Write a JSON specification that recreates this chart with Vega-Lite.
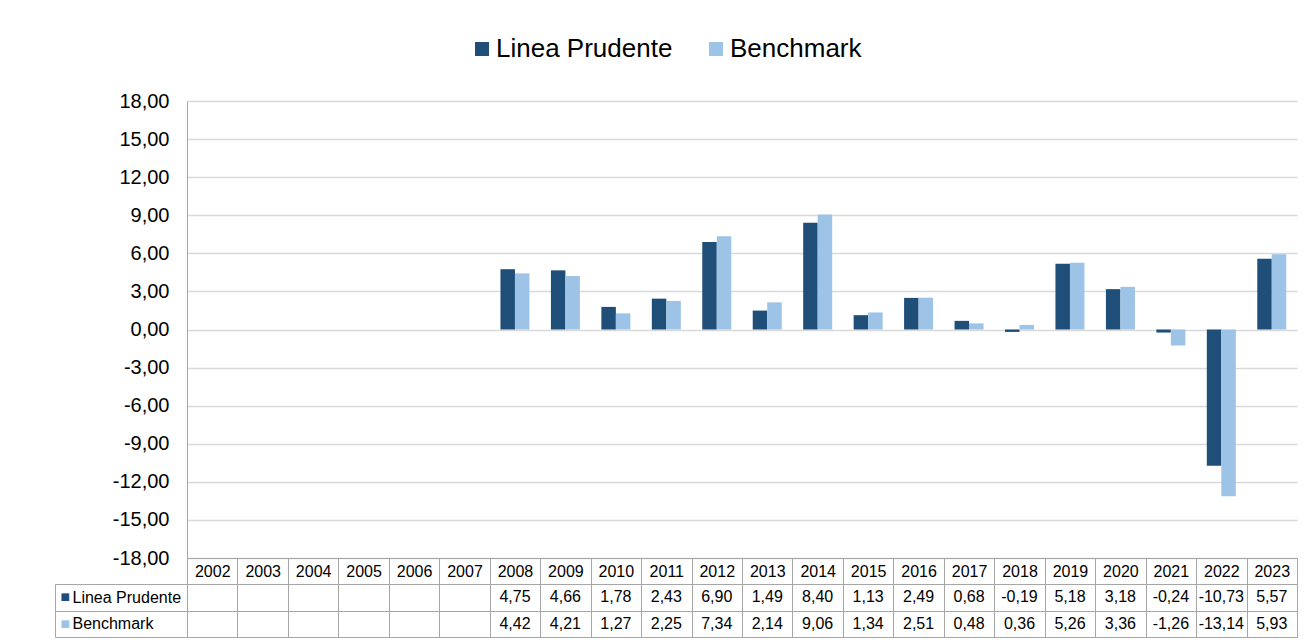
{
  "$schema": "https://vega.github.io/schema/vega-lite/v6.json",
  "padding": {"left": 54, "top": 36, "right": 15, "bottom": 0},
  "background": "#ffffff",
  "spacing": 26,
  "bounds": "flush",
  "config": {
    "locale": {"number": {"decimal": ",", "thousands": ".", "grouping": [3], "currency": ["", " €"], "minus": "-"}},
    "font": "Liberation Sans",
    "view": {"stroke": null},
    "axis": {"labelFont": "Liberation Sans", "labelColor": "#000000"}
  },
  "datasets": {
    "rend": [
      {"anno": "2002", "serie": "Linea Prudente", "valore": null},
      {"anno": "2003", "serie": "Linea Prudente", "valore": null},
      {"anno": "2004", "serie": "Linea Prudente", "valore": null},
      {"anno": "2005", "serie": "Linea Prudente", "valore": null},
      {"anno": "2006", "serie": "Linea Prudente", "valore": null},
      {"anno": "2007", "serie": "Linea Prudente", "valore": null},
      {"anno": "2008", "serie": "Linea Prudente", "valore": 4.75},
      {"anno": "2009", "serie": "Linea Prudente", "valore": 4.66},
      {"anno": "2010", "serie": "Linea Prudente", "valore": 1.78},
      {"anno": "2011", "serie": "Linea Prudente", "valore": 2.43},
      {"anno": "2012", "serie": "Linea Prudente", "valore": 6.90},
      {"anno": "2013", "serie": "Linea Prudente", "valore": 1.49},
      {"anno": "2014", "serie": "Linea Prudente", "valore": 8.40},
      {"anno": "2015", "serie": "Linea Prudente", "valore": 1.13},
      {"anno": "2016", "serie": "Linea Prudente", "valore": 2.49},
      {"anno": "2017", "serie": "Linea Prudente", "valore": 0.68},
      {"anno": "2018", "serie": "Linea Prudente", "valore": -0.19},
      {"anno": "2019", "serie": "Linea Prudente", "valore": 5.18},
      {"anno": "2020", "serie": "Linea Prudente", "valore": 3.18},
      {"anno": "2021", "serie": "Linea Prudente", "valore": -0.24},
      {"anno": "2022", "serie": "Linea Prudente", "valore": -10.73},
      {"anno": "2023", "serie": "Linea Prudente", "valore": 5.57},
      {"anno": "2002", "serie": "Benchmark", "valore": null},
      {"anno": "2003", "serie": "Benchmark", "valore": null},
      {"anno": "2004", "serie": "Benchmark", "valore": null},
      {"anno": "2005", "serie": "Benchmark", "valore": null},
      {"anno": "2006", "serie": "Benchmark", "valore": null},
      {"anno": "2007", "serie": "Benchmark", "valore": null},
      {"anno": "2008", "serie": "Benchmark", "valore": 4.42},
      {"anno": "2009", "serie": "Benchmark", "valore": 4.21},
      {"anno": "2010", "serie": "Benchmark", "valore": 1.27},
      {"anno": "2011", "serie": "Benchmark", "valore": 2.25},
      {"anno": "2012", "serie": "Benchmark", "valore": 7.34},
      {"anno": "2013", "serie": "Benchmark", "valore": 2.14},
      {"anno": "2014", "serie": "Benchmark", "valore": 9.06},
      {"anno": "2015", "serie": "Benchmark", "valore": 1.34},
      {"anno": "2016", "serie": "Benchmark", "valore": 2.51},
      {"anno": "2017", "serie": "Benchmark", "valore": 0.48},
      {"anno": "2018", "serie": "Benchmark", "valore": 0.36},
      {"anno": "2019", "serie": "Benchmark", "valore": 5.26},
      {"anno": "2020", "serie": "Benchmark", "valore": 3.36},
      {"anno": "2021", "serie": "Benchmark", "valore": -1.26},
      {"anno": "2022", "serie": "Benchmark", "valore": -13.14},
      {"anno": "2023", "serie": "Benchmark", "valore": 5.93}
    ]
  },
  "vconcat": [
    {
      "width": 1110,
      "height": 457,
      "data": {"name": "rend"},
      "transform": [{"filter": "datum.valore != null"}],
      "mark": {"type": "bar"},
      "encoding": {
        "x": {
          "field": "anno", "type": "ordinal",
          "scale": {"domain": ["2002","2003","2004","2005","2006","2007","2008","2009","2010","2011","2012","2013","2014","2015","2016","2017","2018","2019","2020","2021","2022","2023"], "paddingInner": 0, "paddingOuter": 0},
          "axis": {"title": null, "orient": "bottom", "labelAngle": 0, "labelFontSize": 16, "tickBand": "extent", "tickSize": 26, "tickColor": "#a6a6a6", "domainColor": "#a6a6a6", "labelBaseline": "middle", "labelPadding": -13}
        },
        "xOffset": {"field": "serie", "type": "nominal", "scale": {"domain": ["Linea Prudente", "Benchmark"], "paddingInner": 0, "paddingOuter": 0.74}},
        "y": {
          "field": "valore", "type": "quantitative", "stack": null,
          "scale": {"domain": [-18, 18], "nice": false},
          "axis": {"title": null, "values": [-18,-15,-12,-9,-6,-3,0,3,6,9,12,15,18], "format": ".2f", "labelFontSize": 20, "ticks": false, "labelPadding": 18, "gridColor": "#d9d9d9", "gridWidth": 1.5, "domainColor": "#a6a6a6"}
        },
        "color": {
          "field": "serie", "type": "nominal",
          "scale": {"domain": ["Linea Prudente", "Benchmark"], "range": ["#1F4E79", "#9DC3E6"]},
          "legend": {"title": null, "orient": "none", "legendX": 282, "legendY": -65, "direction": "horizontal", "symbolType": "square", "symbolSize": 196, "symbolStrokeWidth": 0, "symbolOpacity": 1, "labelFontSize": 26, "labelFont": "Liberation Sans", "labelColor": "#000000", "labelOffset": 1, "labelLimit": 400, "columnPadding": 30}
        }
      }
    },
    {
      "width": 1110,
      "height": 53,
      "data": {"name": "rend"},
      "layer": [
        {
          "transform": [{"filter": "datum.valore != null"}],
          "mark": {"type": "text", "fontSize": 16, "font": "Liberation Sans", "color": "#000000"},
          "encoding": {
            "x": {
              "field": "anno", "type": "ordinal",
              "scale": {"domain": ["2002","2003","2004","2005","2006","2007","2008","2009","2010","2011","2012","2013","2014","2015","2016","2017","2018","2019","2020","2021","2022","2023"], "paddingInner": 0, "paddingOuter": 0},
              "axis": {"title": null, "labels": false, "ticks": false, "domain": false, "grid": true, "tickBand": "extent", "gridColor": "#a6a6a6", "gridWidth": 1}
            },
            "y": {
              "field": "serie", "type": "nominal",
              "scale": {"domain": ["Linea Prudente", "Benchmark"], "paddingInner": 0, "paddingOuter": 0},
              "axis": {"title": null, "orient": "left", "tickBand": "extent", "tickSize": 132, "tickColor": "#a6a6a6", "grid": true, "gridColor": "#a6a6a6", "gridWidth": 1, "domain": false, "labelAlign": "left", "labelFontSize": 16, "labelPadding": -17, "labelColor": "#000000"}
            },
            "text": {"field": "valore", "type": "quantitative", "format": ".2f"}
          }
        },
        {
          "mark": {"type": "text", "opacity": 0},
          "encoding": {
            "y": {
              "field": "serie", "type": "nominal",
              "scale": {"domain": ["Linea Prudente", "Benchmark"], "paddingInner": 0, "paddingOuter": 0},
              "axis": {"title": null, "orient": "left", "offset": 132, "ticks": false, "grid": false, "domain": true, "domainColor": "#a6a6a6", "labelExpr": "'■'", "labelFont": "DejaVu Sans", "labelAlign": "left", "labelPadding": -5, "labelFontSize": 10, "labelColor": {"condition": {"test": "datum.value === 'Benchmark'", "value": "#9DC3E6"}, "value": "#1F4E79"}}
            },
            "text": {"value": ""}
          }
        }
      ],
      "resolve": {"axis": {"y": "independent"}}
    }
  ]
}
